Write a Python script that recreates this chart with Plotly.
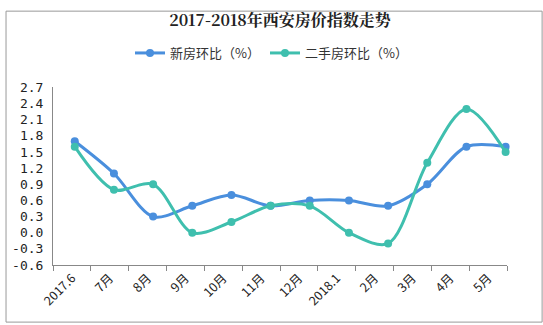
import plotly.graph_objects as go

categories = ["2017.6", "7月", "8月", "9月", "10月", "11月", "12月", "2018.1", "2月", "3月", "4月", "5月"]
new_house = [1.7, 1.1, 0.3, 0.5, 0.7, 0.5, 0.6, 0.6, 0.5, 0.9, 1.6, 1.6]
second_hand = [1.6, 0.8, 0.9, 0.0, 0.2, 0.5, 0.5, 0.0, -0.2, 1.3, 2.3, 1.5]
y_ticks = [-0.6, -0.3, 0.0, 0.3, 0.6, 0.9, 1.2, 1.5, 1.8, 2.1, 2.4, 2.7]
y_ticktext = ["-0.6", "-0.3", "0.0", "0.3", "0.6", "0.9", "1.2", "1.5", "1.8", "2.1", "2.4", "2.7"]

W, H = 543, 325
ml, mr, mt, mb = 48, 36, 80, 60
pw = W - ml - mr

# points sit at slightly wider spacing than the category bands (as in the reference)
pt_first, pt_step = 70, 39.6
band_step = pw / len(categories)
x_lo = (0 - (pt_first - ml)) / pt_step
x_hi = x_lo + pw / pt_step
bands = [x_lo + band_step / pt_step * k for k in range(len(categories) + 1)]
centers = [(bands[k] + bands[k + 1]) / 2 for k in range(len(categories))]
xs = list(range(len(categories)))

blue = "#4a8fdd"
teal = "#3fbfae"

fig = go.Figure()
fig.add_trace(go.Scatter(x=xs, y=new_house, name="新房环比（%）", mode="lines+markers",
                         line=dict(color=blue, width=3, shape="spline", smoothing=0.9),
                         marker=dict(color=blue, size=8), cliponaxis=False))
fig.add_trace(go.Scatter(x=xs, y=second_hand, name="二手房环比（%）", mode="lines+markers",
                         line=dict(color=teal, width=3, shape="spline", smoothing=0.9),
                         marker=dict(color=teal, size=8), cliponaxis=False))

fig.update_layout(
    width=W, height=H,
    margin=dict(l=ml, r=mr, t=mt, b=mb),
    paper_bgcolor="white", plot_bgcolor="white",
    title=dict(text="<b>2017-2018年西安房价指数走势</b>", x=0.5, xref="paper", y=1 - 20 / H,
               yanchor="middle", font=dict(family="Noto Serif CJK SC, Noto Sans CJK SC", size=16, color="#222")),
    legend=dict(orientation="h", x=0.5, xanchor="center", xref="container", y=1 - 53 / H,
                yref="container", yanchor="middle", font=dict(family="Noto Sans CJK SC", size=13, color="#333"),
                itemwidth=30, tracegroupgap=0, bgcolor="rgba(0,0,0,0)"),
    showlegend=True,
    xaxis=dict(range=[x_lo, x_hi], tickvals=centers, ticktext=categories, tickangle=-45,
               ticks="", showgrid=False, zeroline=False, showline=True, linecolor="#888", linewidth=1,
               tickfont=dict(family="Noto Sans CJK SC", size=12.5, color="#222"),
               minor=dict(tickvals=bands, ticks="outside", ticklen=5, tickcolor="#888", showgrid=False)),
    yaxis=dict(range=[-0.6, 2.7], tickvals=y_ticks, ticktext=y_ticktext, showgrid=False,
               zeroline=False, showline=True, linecolor="#888", linewidth=1, ticks="",
               ticklabelstandoff=6,
               tickfont=dict(family="DejaVu Sans Mono", size=13, color="#222")),
)

fig.add_shape(type="rect", xref="paper", yref="paper",
              x0=-ml / pw + 0.5 / pw, x1=1 + (mr - 0.5) / pw,
              y0=-(mb - 0.5) / (H - mt - mb), y1=1 + (mt - 0.5) / (H - mt - mb),
              line=dict(color="#999", width=1), layer="below")

fig.write_html("out.html")
